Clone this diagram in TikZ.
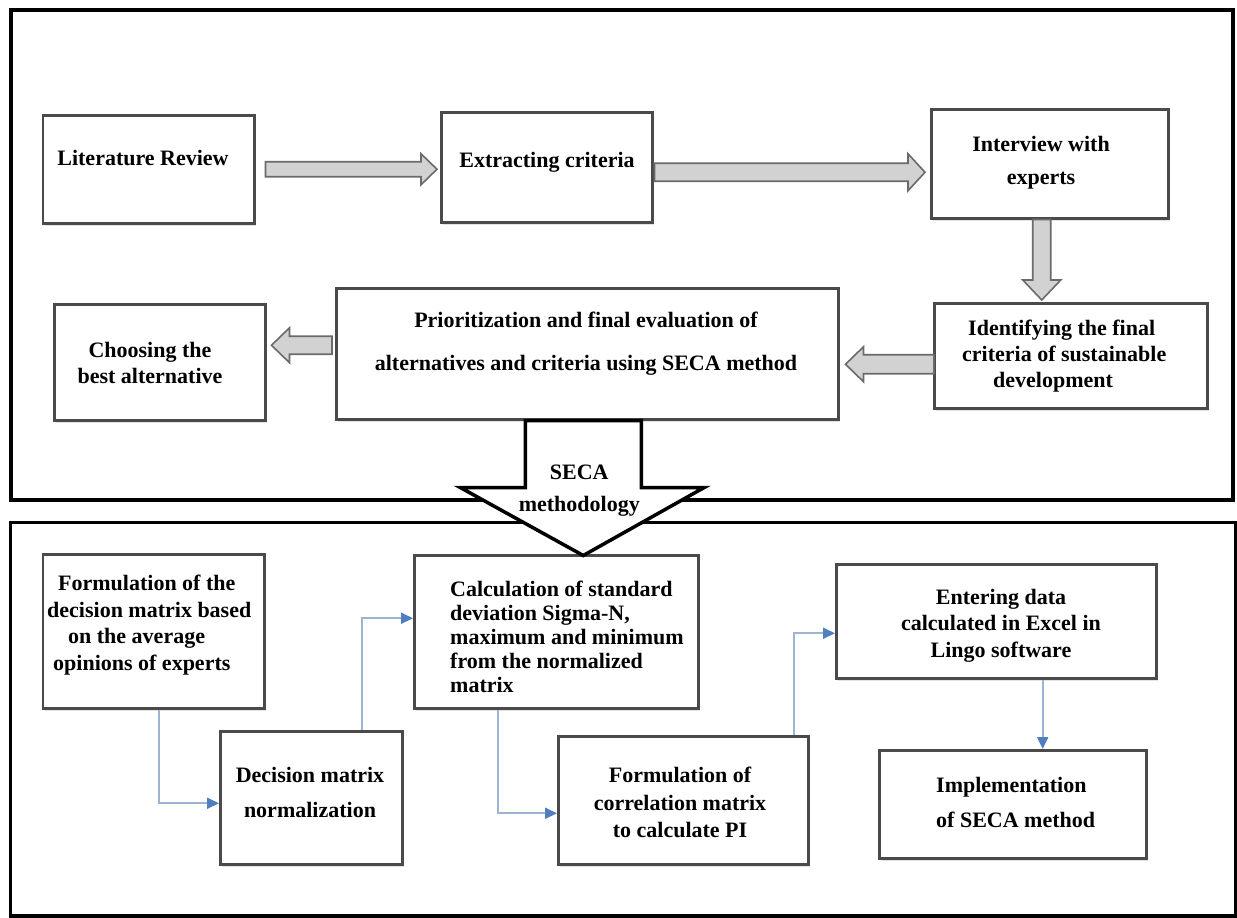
\documentclass[tikz,border=0pt]{standalone}
\usepackage{fontspec}
\setmainfont{Liberation Serif}
\usetikzlibrary{calc,arrows.meta,shadows}
\definecolor{boxline}{HTML}{4A4A4A}
\definecolor{barfill}{HTML}{D2D2D2}
\definecolor{barline}{HTML}{6A6A6A}
\definecolor{connline}{HTML}{9DB4D3}
\definecolor{headblue}{HTML}{4F7FBF}
\newcommand\mkbox[5]{\node[box, minimum width=#4-#2, minimum height=#5-#3] (#1) at (#2,#3) {};}
\newcommand\harrow[5]{\draw[bar] let \p1=(#1), \p2=(#2) in
  (\x1,{\y1+#3pt}) -- ({\x2+(#5pt)},{\y1+#3pt}) -- ({\x2+(#5pt)},{\y1+#4pt}) -- (\x2,\y1)
  -- ({\x2+(#5pt)},{\y1-#4pt}) -- ({\x2+(#5pt)},{\y1-#3pt}) -- (\x1,{\y1-#3pt}) -- cycle;}
\newcommand\varrow[5]{\draw[bar] let \p1=(#1), \p2=(#2) in
  ({\x1+#3pt},\y1) -- ({\x1+#3pt},{\y2+(#5pt)}) -- ({\x1+#4pt},{\y2+(#5pt)}) -- (\x1,\y2)
  -- ({\x1-#4pt},{\y2+(#5pt)}) -- ({\x1-#3pt},{\y2+(#5pt)}) -- ({\x1-#3pt},\y1) -- cycle;}
\begin{document}
\begin{tikzpicture}[x=1pt,y=-1pt,
  box/.style={draw=boxline, line width=2.5pt, fill=white, rectangle, inner sep=0pt, anchor=north west,
    drop shadow={shadow xshift=2pt, shadow yshift=-2.5pt, opacity=0.22}},
  lbl/.style={font=\bfseries\fontsize{22}{#1}\selectfont, align=center, inner sep=0pt},
  lbl/.default=26,
  bar/.style={fill=barfill, draw=barline, line width=1.6pt, line join=miter},
  seca/.style={fill=white, draw=black, line width=3.5pt, line join=miter},
  conn/.style={draw=connline, line width=2pt, -{Triangle[length=12pt,width=11pt,color=headblue]}},
  frame/.style={draw=black, line width=4.5pt}]
\useasboundingbox (0,0) rectangle (1237,918);
% frames
\draw[frame] (11,10) rectangle (1233,500);
\draw[frame, line width=3.5pt] (10.5,522.5) rectangle (1236,916);
% boxes
\mkbox{lit}{41.5}{114}{253}{222}
\mkbox{ext}{440}{111}{651}{221}
\mkbox{int}{930}{108}{1167}{217}
\mkbox{ident}{933}{302}{1206}{407}
\mkbox{prio}{335}{287}{837}{418}
\mkbox{choose}{53}{303}{264}{419}
\mkbox{form}{41.5}{553}{263}{707}
\mkbox{dec}{219}{730}{401}{863}
\mkbox{calc}{413}{554}{697}{707}
\mkbox{corr}{557}{735}{807}{863}
\mkbox{ent}{835}{563}{1155}{677}
\mkbox{impl}{878}{749}{1145}{857}
% block arrows
\harrow{[xshift=10pt]lit.east}{[xshift=-3pt]ext.west}{7.5}{15.5}{-16}
\harrow{[xshift=1pt,yshift=-5pt]ext.east}{[xshift=-5pt]int.west}{9}{18.5}{-17}
\varrow{[xshift=-8pt]int.south}{[yshift=2pt]ident.north}{9}{19}{20}
\harrow{[xshift=1pt,yshift=-8.5pt]ident.west}{[xshift=6pt]prio.east}{9.5}{17.5}{18}
\harrow{[xshift=-3pt,yshift=8.5pt]prio.west}{[xshift=5pt]choose.east}{9}{17.5}{18}
% SECA arrow
\coordinate (s) at ($(prio.south)+(-4,0)$);
\begin{scope}[shift={(s)}]
\draw[seca] (-58,0) -- (58,0) -- (58,67) -- (121,67) -- (0,135) -- (-123,67) -- (-58,67) -- cycle;
\end{scope}
\node[lbl=32] (tseca) at ($(s)+(-4,70)$) {SECA\\methodology};
% connectors
\coordinate (c1) at ($(form.south west)!0.526!(form.south east)$);
\draw[conn] (c1) |- ([yshift=-5.5pt]dec.west);
\coordinate (c2) at ($(dec.north west)!0.775!(dec.north east)$);
\draw[conn] (c2) |- ([yshift=13.5pt]calc.west);
\coordinate (c3) at ($(calc.south west)!0.296!(calc.south east)$);
\draw[conn] (c3) |- ([yshift=-13pt]corr.west);
\coordinate (c4) at ($(corr.north west)!0.94!(corr.north east)$);
\draw[conn] (c4) |- ([yshift=-12pt]ent.west);
\coordinate (c5) at ($(ent.south west)!0.644!(ent.south east)$);
\draw[conn] (c5) -- (c5 |- impl.north);
% texts
\node[lbl] (tlit) at (143,158) {Literature Review};
\node[lbl] (text) at (547,162) {Extracting criteria};
\node[lbl=33] (tint) at (1041,163) {Interview with\\experts};
\node[lbl=26, align=left, anchor=west] (tident) at (962,356) {\hspace*{6pt}Identifying the final\\criteria of sustainable\\\hspace*{31pt}development};
\node[lbl=43] (tprio) at (586,343.5) {Prioritization and final evaluation of\\alternatives and criteria using SECA method};
\node[lbl=26] (tchoose) at (150,363) {Choosing the\\best alternative};
\node[lbl=26.7, align=left, anchor=west] (tform) at (47,625) {\hspace*{11pt}Formulation of the\\decision matrix based\\\hspace*{21pt}on the average\\\hspace*{6pt}opinions of experts};
\node[lbl=35] (tdec) at (310,792.5) {Decision matrix\\normalization};
\node[lbl=24, align=left, anchor=west] (tcalc) at (450,637) {Calculation of standard\\deviation Sigma-N,\\maximum and minimum\\from the normalized\\matrix};
\node[lbl=27.5] (tcorr) at (680,802.5) {Formulation of\\correlation matrix\\to calculate PI};
\node[lbl=26.5] (tent) at (1001,625.5) {Entering data\\calculated in Excel in\\Lingo software};
\node[lbl=35, align=left, anchor=west] (timpl) at (936,802.5) {Implementation\\of SECA method};
\end{tikzpicture}
\end{document}
